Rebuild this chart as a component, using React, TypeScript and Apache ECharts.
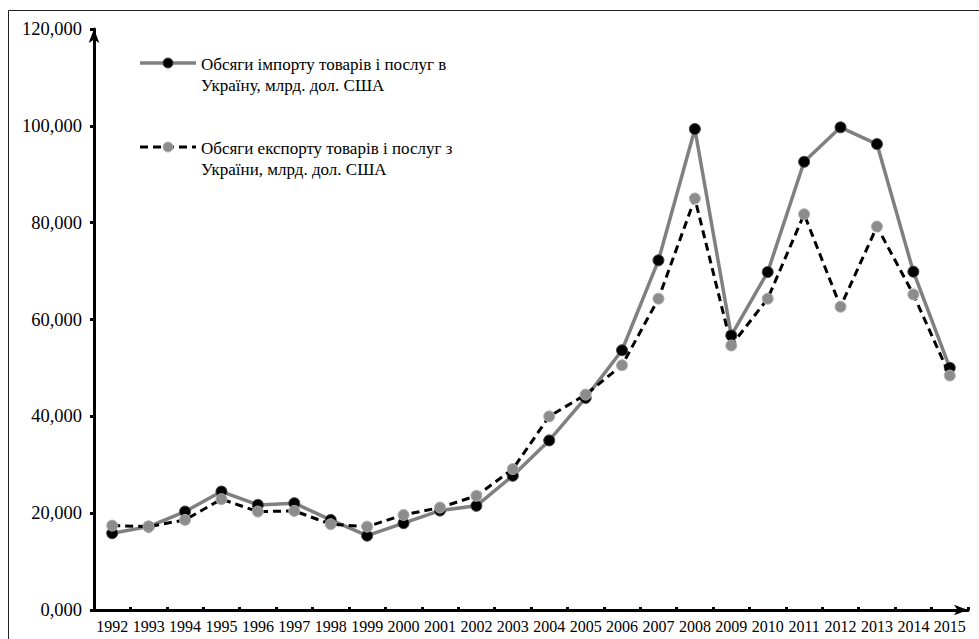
import React, { useEffect, useRef } from "react";
import * as echarts from "echarts";

const years = ["1992","1993","1994","1995","1996","1997","1998","1999","2000","2001","2002","2003","2004","2005","2006","2007","2008","2009","2010","2011","2012","2013","2014","2015"];
const importValues = [15860,17220,20330,24470,21710,22070,18610,15360,17930,20530,21510,27720,35030,43800,53650,72220,99340,56700,69800,92570,99690,96230,69880,50010];
const exportValues = [17430,17220,18610,22890,20330,20470,17720,17220,19640,21160,23580,29100,39990,44490,50550,64300,85000,54630,64300,81740,62640,79200,65180,48420];
const yTickLabels = ["0,000","20,000","40,000","60,000","80,000","100,000","120,000"];
const importName = "Обсяги імпорту товарів і послуг в\nУкраїну, млрд. дол. США";
const exportName = "Обсяги експорту товарів і послуг з\nУкраїни, млрд. дол. США";

const FONT = "Liberation Serif";

export default function App() {
  const ref = useRef<HTMLDivElement>(null);
  useEffect(() => {
    if (!ref.current) return;
    const chart = echarts.init(ref.current, null, { renderer: "svg" });
    chart.setOption({
      animation: false,
      backgroundColor: "#fff",
      grid: { left: 94, right: 11, top: 29, bottom: 29, containLabel: false },
      xAxis: {
        type: "category",
        data: years,
        boundaryGap: true,
        axisLine: { show: true, symbol: ["none", "arrow"], symbolSize: [8, 14], lineStyle: { color: "#000", width: 3 } },
        axisTick: { show: true, inside: true, length: 3, lineStyle: { color: "#000", width: 3 } },
        axisLabel: { color: "#000", fontFamily: FONT, fontSize: 16, margin: 8, interval: 0 },
        splitLine: { show: false },
      },
      yAxis: {
        type: "value",
        min: 0,
        max: 120000,
        interval: 20000,
        axisLine: { show: true, symbol: ["none", "arrow"], symbolSize: [8, 14], lineStyle: { color: "#000", width: 3 } },
        axisTick: { show: true, length: 4, lineStyle: { color: "#000", width: 3 } },
        axisLabel: {
          color: "#000",
          fontFamily: FONT,
          fontSize: 18.5,
          margin: 12,
          formatter: (v: number) => yTickLabels[Math.round(v / 20000)] ?? "",
        },
        splitLine: { show: false },
      },
      series: [
        {
          name: importName,
          type: "line",
          data: importValues,
          symbol: "circle",
          symbolSize: 11,
          lineStyle: { color: "#808080", width: 3.5 },
          itemStyle: { color: "#000", borderColor: "#444", borderWidth: 1 },
          z: 2,
        },
        {
          name: exportName,
          type: "line",
          data: exportValues,
          symbol: "circle",
          symbolSize: 11,
          lineStyle: { color: "#000", width: 3, type: [8, 5] },
          itemStyle: { color: "#8c8c8c", borderColor: "#b0b0b0", borderWidth: 1 },
          z: 3,
        },
      ],
      graphic: [
        { type: "rect", shape: { x: 8.5, y: 10.5, width: 1000, height: 700 }, style: { fill: "none", stroke: "#222", lineWidth: 1 }, silent: true, z: -10 },
        { type: "line", shape: { x1: 140, y1: 63, x2: 196, y2: 63 }, style: { stroke: "#808080", lineWidth: 3.5 } },
        { type: "circle", shape: { cx: 168, cy: 63, r: 5 }, style: { fill: "#000", stroke: "#444", lineWidth: 1 } },
        { type: "text", x: 201, y: 54, style: { text: importName, font: `17px ${FONT}`, fill: "#000", lineHeight: 21 } },
        { type: "line", shape: { x1: 140, y1: 147, x2: 196, y2: 147 }, style: { stroke: "#000", lineWidth: 3, lineDash: [8, 5] } },
        { type: "circle", shape: { cx: 168, cy: 147, r: 5 }, style: { fill: "#8c8c8c", stroke: "#b0b0b0", lineWidth: 1 } },
        { type: "text", x: 201, y: 138, style: { text: exportName, font: `17px ${FONT}`, fill: "#000", lineHeight: 21 } },
      ],
    });
    return () => chart.dispose();
  }, []);
  return <div ref={ref} style={{ position: "absolute", left: 0, top: 0, width: 979, height: 639 }} />;
}
